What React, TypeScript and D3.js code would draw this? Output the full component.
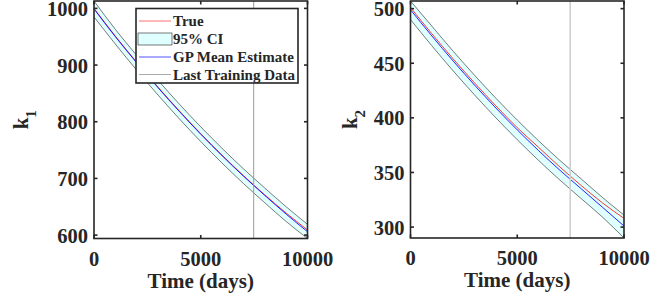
import React, { useEffect, useRef } from 'react';
import * as d3 from 'd3';

// time axis (days) and read-off values
const days = [0, 1000, 2000, 3000, 4000, 5000, 6000, 7000, 8000, 9000, 10000];

const k1True = [1000, 951, 905, 861, 819, 779, 741, 705, 671, 639, 609];
const k1Mean = [999, 950, 904, 860, 818, 778, 740, 704, 670, 637, 606];
const k1Upper = [1013, 963, 917, 873, 831, 791, 753, 717, 683, 650, 619];
const k1Lower = [985, 937, 891, 847, 805, 765, 727, 691, 657, 624, 594];

const k2True = [501, 477, 454, 432, 411, 391, 373, 355, 338, 322, 308];
const k2Mean = [499, 475, 452, 430, 409, 389, 370, 352, 335, 318, 301];
const k2Upper = [507, 484, 461, 439, 418, 398, 379, 361, 344, 327, 311];
const k2Lower = [490, 466, 443, 421, 400, 380, 361, 343, 326, 309, 290];

const lastTraining = 7480;

const xTicks = [0, 5000, 10000];
const k1Ticks = [600, 700, 800, 900, 1000];
const k2Ticks = [300, 350, 400, 450, 500];

const legendLabels = ['True', '95% CI', 'GP Mean Estimate', 'Last Training Data'];

const FONT = '"Liberation Serif", "Times New Roman", serif';
const AX = '#262626';

function drawPanel(svg, o) {
  const x = d3.scaleLinear().domain([0, 10000]).range([o.left, o.right]);
  const y = d3.scaleLinear()
    .domain([d3.min(o.lower), d3.max(o.upper)])
    .range([o.bottom, o.top]);

  const g = svg.append('g');

  const band = d3.area()
    .x((d, i) => x(days[i]))
    .y0((d, i) => y(o.lower[i]))
    .y1(d => y(d))
    .curve(d3.curveMonotoneX);
  g.append('path').datum(o.upper)
    .attr('fill', '#e0ffff').attr('stroke', 'none').attr('d', band);

  const line = (vals) => d3.line()
    .x((d, i) => x(days[i]))
    .y(d => y(d))
    .curve(d3.curveMonotoneX)(vals);

  g.append('path').attr('d', line(o.upper)).attr('fill', 'none').attr('stroke', '#222').attr('stroke-width', 0.6);
  g.append('path').attr('d', line(o.lower)).attr('fill', 'none').attr('stroke', '#222').attr('stroke-width', 0.6);
  g.append('path').attr('d', line(o.truth)).attr('fill', 'none').attr('stroke', '#ff2020').attr('stroke-width', 0.9);
  g.append('path').attr('d', line(o.mean)).attr('fill', 'none').attr('stroke', '#1010ff').attr('stroke-width', 0.9);

  // last training data marker
  g.append('line')
    .attr('x1', x(lastTraining)).attr('x2', x(lastTraining))
    .attr('y1', o.top).attr('y2', o.bottom)
    .attr('stroke', o.vColor).attr('stroke-width', o.vWidth);

  // box + inward ticks
  g.append('rect')
    .attr('x', o.left).attr('y', o.top)
    .attr('width', o.right - o.left).attr('height', o.bottom - o.top)
    .attr('fill', 'none').attr('stroke', AX).attr('stroke-width', 1.6);

  const tl = 3.5;
  xTicks.forEach(t => {
    g.append('line').attr('x1', x(t)).attr('x2', x(t)).attr('y1', o.bottom).attr('y2', o.bottom - tl)
      .attr('stroke', AX).attr('stroke-width', 1.6);
    g.append('line').attr('x1', x(t)).attr('x2', x(t)).attr('y1', o.top).attr('y2', o.top + tl)
      .attr('stroke', AX).attr('stroke-width', 1.6);
    g.append('text').attr('x', x(t)).attr('y', o.bottom + 27)
      .attr('text-anchor', 'middle').attr('font-size', 20.5).attr('font-weight', 'bold')
      .attr('font-family', FONT).attr('fill', AX).text(t);
  });
  o.ticks.forEach(t => {
    g.append('line').attr('x1', o.left).attr('x2', o.left + tl).attr('y1', y(t)).attr('y2', y(t))
      .attr('stroke', AX).attr('stroke-width', 1.6);
    g.append('line').attr('x1', o.right).attr('x2', o.right - tl).attr('y1', y(t)).attr('y2', y(t))
      .attr('stroke', AX).attr('stroke-width', 1.6);
    g.append('text').attr('x', o.left - 6).attr('y', y(t) + 7.5)
      .attr('text-anchor', 'end').attr('font-size', 20.5).attr('font-weight', 'bold')
      .attr('font-family', FONT).attr('fill', AX).text(t);
  });

  g.append('text').attr('x', (o.left + o.right) / 2).attr('y', o.bottom + 49)
    .attr('text-anchor', 'middle').attr('font-size', 21).attr('font-weight', 'bold')
    .attr('font-family', FONT).attr('fill', AX).text('Time (days)');

  const yl = g.append('text')
    .attr('transform', `translate(${o.labelX},${(o.top + o.bottom) / 2}) rotate(-90)`)
    .attr('text-anchor', 'middle').attr('font-size', 21).attr('font-weight', 'bold')
    .attr('font-family', FONT).attr('fill', AX);
  yl.append('tspan').text('k');
  yl.append('tspan').attr('dy', 8).attr('font-size', 15).text(o.sub);

  return { x, y, g };
}

function App() {
  const ref = useRef(null);

  useEffect(() => {
    const svg = d3.select(ref.current);
    svg.selectAll('*').remove();

    drawPanel(svg, {
      left: 94, right: 307.5, top: 1, bottom: 238.5,
      truth: k1True, mean: k1Mean, upper: k1Upper, lower: k1Lower,
      ticks: k1Ticks, sub: '1', labelX: 28, vColor: '#9a9a9a', vWidth: 1
    });
    drawPanel(svg, {
      left: 410.5, right: 624, top: 1, bottom: 238,
      truth: k2True, mean: k2Mean, upper: k2Upper, lower: k2Lower,
      ticks: k2Ticks, sub: '2', labelX: 357, vColor: '#cfcfcf', vWidth: 1.6
    });

    // legend
    const lg = svg.append('g');
    lg.append('rect').attr('x', 136).attr('y', 8.5).attr('width', 162).attr('height', 74.5)
      .attr('fill', 'white').attr('stroke', AX).attr('stroke-width', 1.6);
    const rowY = [21, 39, 57, 74.5];
    const swatch = ['#ff6060', null, '#4040ff', '#a0a0a0'];
    legendLabels.forEach((lab, i) => {
      if (swatch[i]) {
        lg.append('line').attr('x1', 139).attr('x2', 171).attr('y1', rowY[i]).attr('y2', rowY[i])
          .attr('stroke', swatch[i]).attr('stroke-width', 0.9);
      } else {
        lg.append('rect').attr('x', 138).attr('y', rowY[i] - 6).attr('width', 34).attr('height', 12)
          .attr('fill', '#e0ffff').attr('stroke', '#222').attr('stroke-width', 0.6);
      }
      lg.append('text').attr('x', 173).attr('y', rowY[i] + 5)
        .attr('font-size', 15).attr('font-weight', 'bold')
        .attr('font-family', FONT).attr('fill', AX).text(lab);
    });
  }, []);

  return (
    <svg ref={ref} width={664} height={295}
      style={{ position: 'absolute', left: 0, top: 0, background: 'white' }} />
  );
}

export default App;
